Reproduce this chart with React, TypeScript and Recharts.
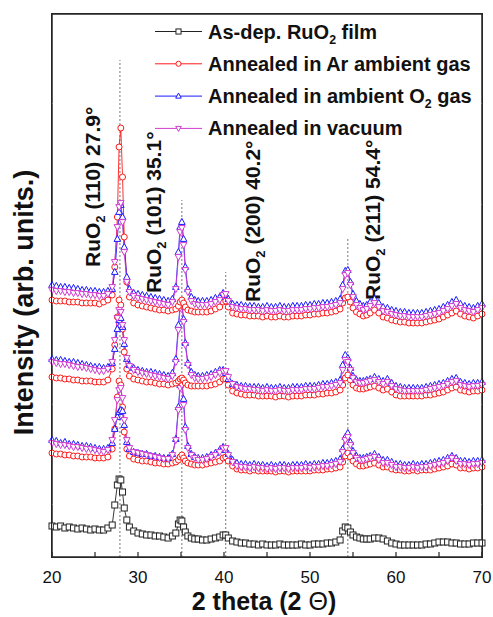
import { LineChart, Line, XAxis, YAxis, ReferenceLine, ReferenceDot, Legend } from 'recharts';

// 2θ positions (deg), denser around the reflections
const twoTheta = [
  20, 20.5, 21, 21.5, 22, 22.5, 23, 23.5, 24, 24.5, 25, 25.5, 26, 26.5,
  27, 27.3, 27.6, 27.8, 28, 28.2, 28.4, 28.7, 29, 29.5,
  30, 30.5, 31, 31.5, 32, 32.5, 33, 33.5, 34,
  34.4, 34.7, 34.9, 35.1, 35.3, 35.5, 35.8, 36.2, 36.6,
  37, 37.5, 38, 38.5, 39, 39.5,
  39.9, 40.2, 40.5, 41,
  41.5, 42, 42.5, 43, 43.5, 44, 44.5, 45, 45.5, 46, 46.5, 47, 47.5, 48, 48.5, 49, 49.5, 50, 50.5, 51, 51.5, 52, 52.5, 53, 53.5,
  53.8, 54.1, 54.4, 54.7, 55, 55.4, 55.8,
  56.2, 56.6, 57, 57.5, 58, 58.5, 59, 59.5, 60, 60.5, 61, 61.5, 62, 62.5, 63, 63.5, 64, 64.5, 65, 65.5, 66, 66.5, 67, 67.5, 68, 68.5, 69, 69.5, 70,
];

// intensities (arb. units, offset stacked)
const asDeposited = [
  31, 30, 31, 29, 30, 29, 28, 29, 28, 27, 28, 27, 27, 29,
  32, 52, 72, 78, 77, 65, 49, 37, 30, 26,
  24, 23, 22, 22, 21, 21, 20, 19, 21,
  24, 33, 37, 36, 30, 25, 21, 19, 18,
  18, 17, 17, 18, 19, 20,
  22, 22, 19, 16,
  15, 14, 14, 13, 13, 12, 13, 12, 12, 12, 13, 12, 12, 12, 12, 13, 12, 12, 13, 13, 13, 14, 14, 15, 17,
  26, 30, 29, 25, 22, 20, 19,
  18, 18, 18, 19, 19, 18, 16, 14, 13, 12, 12, 12, 12, 12, 12, 13, 13, 14, 15, 15, 15, 14, 14, 13, 13, 13, 14, 14, 14,
];

const argonLow = [
  104, 103, 103, 102, 102, 101, 101, 100, 100, 100, 99, 99, 99, 100,
  108, 128, 160, 176, 172, 150, 125, 108, 101, 98,
  97, 96, 96, 95, 94, 94, 93, 93, 94,
  95, 97, 100, 102, 99, 96, 94, 93, 92,
  92, 92, 93, 94, 95, 96,
  99, 100, 96, 91,
  88, 87, 87, 86, 87, 86, 86, 86, 86, 85, 86, 86, 85, 86, 86, 86, 86, 86, 87, 87, 87, 88, 88, 89, 90,
  95, 101, 104, 100, 96, 93, 91,
  91, 92, 93, 94, 92, 90, 90, 88, 87, 87, 86, 86, 87, 86, 87, 87, 87, 88, 89, 90, 91, 93, 92, 89, 89, 88, 89, 89, 90,
];
const oxygenLow = [
  117, 116, 114, 115, 113, 113, 112, 111, 111, 110, 109, 108, 108, 109,
  114, 128, 140, 145, 147, 146, 132, 115, 108, 105,
  104, 103, 103, 101, 101, 100, 99, 99, 103,
  118, 150, 172, 177, 158, 130, 111, 103, 100,
  99, 99, 100, 102, 104, 107,
  110, 107, 103, 97,
  94, 93, 93, 92, 93, 92, 92, 91, 92, 91, 92, 92, 91, 92, 92, 92, 93, 92, 93, 93, 94, 94, 95, 96, 98,
  108, 120, 124, 115, 106, 101, 99,
  99, 100, 101, 103, 100, 97, 97, 95, 93, 93, 92, 92, 93, 92, 93, 93, 94, 95, 96, 97, 99, 101, 99, 96, 96, 95, 96, 96, 97,
];
const vacuumLow = [
  114, 113, 112, 112, 111, 110, 110, 109, 108, 108, 107, 106, 105, 107,
  117, 137, 157, 167, 169, 159, 137, 117, 109, 105,
  104, 103, 102, 101, 100, 99, 98, 98, 102,
  117, 147, 169, 172, 152, 127, 109, 102, 99,
  97, 97, 98, 100, 102, 105,
  109, 109, 102, 95,
  91, 90, 90, 89, 90, 89, 89, 88, 89, 88, 89, 89, 88, 89, 89, 89, 90, 89, 90, 90, 91, 91, 92, 93, 95,
  105, 117, 120, 112, 104, 99, 97,
  97, 98, 99, 100, 97, 94, 94, 92, 90, 90, 89, 89, 90, 89, 90, 90, 91, 92, 93, 94, 96, 99, 96, 93, 93, 92, 93, 93, 94,
];

const argonMid = [
  180, 179, 179, 178, 178, 177, 177, 176, 176, 176, 175, 175, 175, 177,
  188, 212, 240, 257, 252, 228, 205, 188, 181, 178,
  177, 176, 175, 175, 174, 173, 173, 172, 173,
  174, 176, 178, 179, 177, 174, 172, 171, 171,
  171, 171, 171, 172, 173, 175,
  178, 178, 172, 166,
  164, 163, 162, 162, 162, 161, 161, 161, 161, 160, 161, 161, 160, 161, 161, 161, 162, 162, 162, 163, 163, 164, 164, 165, 167,
  172, 179, 182, 177, 172, 169, 168,
  168, 169, 170, 171, 169, 167, 168, 165, 162, 161, 161, 161, 161, 161, 161, 162, 162, 163, 164, 165, 167, 169, 170, 167, 166, 165, 166, 166, 167,
];
const oxygenMid = [
  198, 197, 197, 196, 195, 195, 194, 193, 192, 191, 190, 190, 189, 190,
  194, 208, 228, 237, 239, 230, 213, 198, 192, 189,
  187, 186, 185, 185, 184, 183, 182, 181, 184,
  198, 232, 252, 255, 238, 214, 194, 185, 182,
  181, 181, 182, 183, 185, 187,
  187, 184, 178, 173,
  172, 171, 171, 170, 170, 170, 169, 170, 169, 169, 170, 169, 169, 170, 170, 170, 171, 171, 171, 172, 173, 173, 174, 175, 177,
  192, 202, 199, 189, 181, 177, 176,
  176, 177, 178, 180, 178, 176, 178, 174, 171, 170, 169, 169, 169, 169, 169, 170, 171, 172, 173, 174, 176, 178, 179, 175, 174, 173, 174, 174, 175,
];
const vacuumMid = [
  195, 194, 193, 193, 192, 191, 190, 190, 189, 188, 187, 186, 186, 188,
  195, 217, 239, 247, 245, 232, 217, 199, 191, 187,
  185, 184, 183, 182, 181, 180, 179, 178, 181,
  195, 227, 249, 252, 235, 212, 192, 182, 179,
  178, 178, 179, 180, 182, 184,
  186, 186, 180, 173,
  170, 169, 168, 168, 167, 167, 166, 167, 166, 166, 167, 166, 166, 167, 167, 167, 168, 168, 168, 169, 170, 170, 171, 172, 174,
  187, 197, 195, 187, 179, 175, 174,
  174, 175, 176, 177, 175, 173, 175, 171, 168, 167, 166, 166, 166, 166, 166, 167, 168, 169, 170, 171, 173, 175, 176, 172, 171, 170, 171, 171, 172,
];

const argonTop = [
  257, 256, 256, 256, 255, 255, 255, 254, 254, 254, 254, 253, 255, 257,
  262, 290, 340, 410, 429, 380, 320, 275, 260, 254,
  252, 251, 250, 249, 248, 247, 247, 246, 247,
  248, 251, 255, 257, 254, 250, 247, 246, 245,
  245, 245, 245, 246, 248, 250,
  255, 256, 250, 244,
  243, 242, 242, 241, 241, 241, 240, 241, 240, 240, 241, 240, 240, 241, 241, 241, 242, 242, 243, 243, 244, 244, 245, 246, 248,
  254, 259, 260, 255, 249, 245, 243,
  241, 242, 244, 247, 244, 240, 239, 237, 236, 235, 235, 234, 234, 234, 234, 235, 236, 237, 238, 240, 242, 244, 246, 243, 241, 240, 239, 241, 243,
];
const oxygenTop = [
  272, 271, 270, 270, 269, 269, 268, 267, 267, 266, 266, 265, 265, 266,
  268, 285, 318, 345, 352, 340, 310, 280, 268, 264,
  263, 262, 261, 260, 259, 258, 257, 256, 258,
  270, 305, 330, 335, 318, 290, 268, 260, 257,
  256, 256, 256, 257, 259, 260,
  264, 262, 258, 253,
  252, 252, 251, 251, 251, 250, 250, 251, 250, 250, 251, 250, 250, 251, 251, 251, 252, 252, 253, 253, 254, 254, 255, 256, 258,
  272, 286, 287, 275, 263, 256, 253,
  251, 252, 255, 258, 254, 250, 249, 247, 246, 245, 245, 244, 244, 244, 244, 245, 246, 247, 248, 250, 252, 255, 257, 253, 251, 250, 249, 251, 253,
];
const vacuumTop = [
  267, 266, 266, 265, 265, 264, 264, 263, 263, 262, 262, 261, 261, 263,
  270, 295, 330, 350, 354, 335, 305, 275, 265, 261,
  259, 258, 257, 256, 255, 254, 253, 252, 255,
  268, 300, 325, 329, 312, 287, 265, 256, 253,
  252, 252, 252, 253, 255, 257,
  262, 263, 256, 250,
  249, 248, 248, 247, 247, 247, 246, 247, 246, 246, 247, 246, 246, 247, 247, 247, 248, 248, 249, 249, 250, 250, 251, 252, 254,
  268, 282, 284, 272, 260, 252, 249,
  247, 248, 251, 254, 250, 246, 245, 243, 242, 241, 241, 240, 240, 240, 240, 241, 242, 243, 244, 246, 248, 251, 253, 249, 247, 246, 245, 247, 249,
];

const xTicks = [20, 25, 30, 35, 40, 45, 50, 55, 60, 65, 70];
const X_MIN = 20;
const X_MAX = 70;
const Y_MAX = 543;
const TICK_LEN = 5;

// chart box
const W = 493;
const H = 617;
const MARGIN = { top: 14, right: 11, bottom: 30, left: 0 };
const Y_AXIS_W = 52;
const X_AXIS_H = 30;
const PLOT_W = W - MARGIN.left - MARGIN.right - Y_AXIS_W;
const PLOT_H = H - MARGIN.top - MARGIN.bottom - X_AXIS_H;

// reflections: position, height of dotted guide, label text, label anchor
const peakPos = [27.9, 35.1, 40.2, 54.4];
const peakGuideTop = [497, 357, 285, 319];
const peakText = ['(110) 27.9°', '(101) 35.1°', '(200) 40.2°', '(211) 54.4°'];
const peakLabelX = [25.6, 32.7, 44.2, 58.1];
const peakLabelY = [290, 264, 255, 257];

const legendLabels = ['As-dep. RuO_2 film', 'Annealed in Ar ambient gas', 'Annealed in ambient O_2 gas', 'Annealed in vacuum'];
const legendColors = ['#222222', '#ff1a1a', '#1a1aff', '#d03cd0'];
const legendShapes = ['square', 'circle', 'up', 'down'];

const FONT = '"Liberation Sans", Arial, sans-serif';
const INK = '#262626';

const series = [
  { key: 'asdep', ys: asDeposited, color: legendColors[0], shape: 'square' },
  { key: 'ar-low', ys: argonLow, color: legendColors[1], shape: 'circle' },
  { key: 'o2-low', ys: oxygenLow, color: legendColors[2], shape: 'up' },
  { key: 'vac-low', ys: vacuumLow, color: legendColors[3], shape: 'down' },
  { key: 'ar-mid', ys: argonMid, color: legendColors[1], shape: 'circle' },
  { key: 'o2-mid', ys: oxygenMid, color: legendColors[2], shape: 'up' },
  { key: 'vac-mid', ys: vacuumMid, color: legendColors[3], shape: 'down' },
  { key: 'ar-top', ys: argonTop, color: legendColors[1], shape: 'circle' },
  { key: 'o2-top', ys: oxygenTop, color: legendColors[2], shape: 'up' },
  { key: 'vac-top', ys: vacuumTop, color: legendColors[3], shape: 'down' },
];

const toPoints = (ys: number[]) => twoTheta.map((x, i) => ({ x, y: ys[i] }));

const frameSegments = [
  [{ x: X_MIN, y: 0 }, { x: X_MAX, y: 0 }],
  [{ x: X_MIN, y: Y_MAX }, { x: X_MAX, y: Y_MAX }],
  [{ x: X_MIN, y: 0 }, { x: X_MIN, y: Y_MAX }],
  [{ x: X_MAX, y: 0 }, { x: X_MAX, y: Y_MAX }],
];

function marker(shape: string, color: string, size = 1) {
  return (p: any) => {
    const { cx, cy, index } = p;
    const k = `m-${index}`;
    if (cx == null || cy == null) return <g key={k} />;
    const st = { fill: '#fff', stroke: color, strokeWidth: 1 };
    const s = 3 * size;
    if (shape === 'square') return <rect key={k} x={cx - s} y={cy - s} width={2 * s} height={2 * s} {...st} />;
    if (shape === 'up') return <path key={k} d={`M${cx},${cy - 1.2 * s}L${cx + 1.1 * s},${cy + 0.8 * s}L${cx - 1.1 * s},${cy + 0.8 * s}Z`} {...st} />;
    if (shape === 'down') return <path key={k} d={`M${cx},${cy + 1.2 * s}L${cx + 1.1 * s},${cy - 0.8 * s}L${cx - 1.1 * s},${cy - 0.8 * s}Z`} {...st} />;
    return <circle key={k} cx={cx} cy={cy} r={s} {...st} />;
  };
}

// "RuO_2" -> RuO with a lowered 2
function withSub(text: string, size: number) {
  const parts = text.split('_2');
  return parts.map((part, i) => (
    <tspan key={i}>
      <tspan dy={i > 0 ? -size * 0.25 : 0}>{part}</tspan>
      {i < parts.length - 1 && <tspan dy={size * 0.25} fontSize={size * 0.62}>2</tspan>}
    </tspan>
  ));
}

const LegendBox = () => (
  <svg width={340} height={135} style={{ display: 'block' }}>
    {legendLabels.map((label, i) => {
      const cy = 17.5 + i * 32.3;
      return (
        <g key={label}>
          <line x1={5} x2={52} y1={cy} y2={cy} stroke={legendColors[i]} strokeWidth={1} />
          {marker(legendShapes[i], legendColors[i], 0.85)({ cx: 28.5, cy, index: i })}
          <text x={58} y={cy + 7} fontSize={20} fontWeight="bold" fontFamily={FONT} fill="#111">
            {withSub(label, 20)}
          </text>
        </g>
      );
    })}
  </svg>
);

const PeakLabel = (props: any) => {
  const { cx, cy, text } = props;
  if (cx == null || cy == null) return <g />;
  return (
    <text x={cx} y={cy} transform={`rotate(-90 ${cx} ${cy})`} fontSize={21} fontWeight="bold" fontFamily={FONT} fill="#111">
      RuO<tspan dy={5} fontSize={13}>2</tspan><tspan dy={-5}>{' ' + text}</tspan>
    </text>
  );
};

const XTick = (props: any) => {
  const { x, y, payload } = props;
  const v = payload.value as number;
  if (v % 10 !== 0) return <g />;
  return (
    <text x={x} y={y + 26} textAnchor="middle" fontSize={17} fontFamily={FONT} fill="#111">
      {v}
    </text>
  );
};

const YTitle = (props: any) => {
  const vb = props.viewBox || { y: 14, height: 543 };
  const cy = vb.y + vb.height / 2 + 17;
  return (
    <text x={33} y={cy} transform={`rotate(-90 33 ${cy})`} textAnchor="middle" fontSize={27} fontWeight="bold" fontFamily={FONT} fill="#111">
      Intensity (arb. units.)
    </text>
  );
};

const XTitle = (props: any) => {
  const vb = props.viewBox || { x: 52, y: 557, width: 430 };
  return (
    <text x={vb.x + vb.width / 2 - 3} y={vb.y + 53} textAnchor="middle" fontSize={25} fontWeight="bold" fontFamily={FONT} fill="#111">
      2 theta (2 <tspan fontWeight="normal">Θ</tspan>)
    </text>
  );
};

export default function App() {
  const plotLeft = MARGIN.left + Y_AXIS_W;
  const plotTop = MARGIN.top;
  return (
    <div style={{ position: 'absolute', left: 0, top: 0, width: W, height: H, background: '#fff' }}>
      <LineChart width={W} height={H} margin={MARGIN}>
        <XAxis
          dataKey="x"
          type="number"
          domain={[X_MIN, X_MAX]}
          ticks={xTicks}
          height={X_AXIS_H}
          tickSize={0}
          tickMargin={0}
          tick={<XTick />}
          tickLine={false}
          axisLine={false}
          label={<XTitle />}
        />
        <YAxis
          type="number"
          domain={[0, Y_MAX]}
          width={Y_AXIS_W}
          tick={false}
          tickLine={false}
          axisLine={false}
          label={<YTitle />}
        />
        {peakPos.map((p, i) => (
          <ReferenceLine
            key={`guide-${p}`}
            segment={[{ x: p, y: 0 }, { x: p, y: peakGuideTop[i] }]}
            stroke="#777"
            strokeWidth={1}
            strokeDasharray="2 2"
          />
        ))}
        {series.map(s => (
          <Line
            key={s.key}
            data={toPoints(s.ys)}
            dataKey="y"
            type="linear"
            stroke={s.color}
            strokeWidth={0.9}
            dot={marker(s.shape, s.color)}
            activeDot={false}
            legendType="none"
            isAnimationActive={false}
          />
        ))}
        {frameSegments.map((seg, i) => (
          <ReferenceLine key={`frame-${i}`} segment={seg} stroke={INK} strokeWidth={1.5} strokeDasharray="4 0.01" />
        ))}
        {xTicks.map(t => (
          <ReferenceLine
            key={`tick-${t}`}
            segment={[{ x: t, y: 0 }, { x: t, y: TICK_LEN }]}
            stroke={INK}
            strokeWidth={1.2}
            strokeDasharray="5 1"
          />
        ))}
        {peakPos.map((p, i) => (
          <ReferenceDot
            key={`lbl-${p}`}
            x={peakLabelX[i]}
            y={peakLabelY[i]}
            r={0}
            shape={(props: any) => <PeakLabel {...props} text={peakText[i]} />}
          />
        ))}
        <Legend
          layout="vertical"
          align="center"
          verticalAlign="middle"
          content={() => <LegendBox />}
          wrapperStyle={{ left: 150, top: 14, width: 340, height: 135 }}
        />
      </LineChart>
      <div
        style={{
          position: 'absolute',
          left: plotLeft - 0.75,
          top: plotTop - 0.75,
          width: PLOT_W + 1.5,
          height: PLOT_H + 1.5,
          boxSizing: 'border-box',
          border: `1.5px solid ${INK}`,
          pointerEvents: 'none',
        }}
      />
    </div>
  );
}
